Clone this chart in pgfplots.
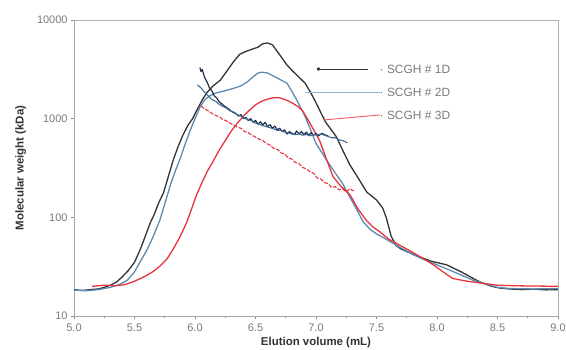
\documentclass[border=0pt]{standalone}
\usepackage{fontspec}
\setmainfont{Liberation Sans}
\usepackage{pgfplots}
\pgfplotsset{compat=1.18}
\definecolor{c1}{HTML}{333333}
\definecolor{c2}{HTML}{5B8BB3}
\definecolor{c3}{HTML}{E8333D}
\definecolor{s1}{HTML}{1C2D4A}
\definecolor{s2}{HTML}{3F6C96}
\definecolor{l2}{HTML}{8DB6D6}
\definecolor{txt}{HTML}{7A7A7A}
\begin{document}
\begin{tikzpicture}
\begin{axis}[name=ax,
  scale only axis, width=484bp, height=296bp,
  xmin=5, xmax=9, ymin=10, ymax=10000, ymode=log,
  xtick={5,5.5,...,9}, minor x tick num=1,
  ytick={10,100,1000,10000}, yticklabels={10,100,1000,10000},
  log basis y=10,
  xticklabel style={/pgf/number format/fixed, /pgf/number format/fixed zerofill, /pgf/number format/precision=1, yshift=-1bp},
  /pgf/number format/assume math mode=true,
  tick align=outside, xtick pos=bottom, ytick pos=left,
  major tick length=3bp, minor tick length=2bp,
  axis line style={draw=black!35, line width=0.9pt},
  tick style={black!45, line width=0.6pt},
  ticklabel style={font=\fontsize{11}{13}\selectfont, text=txt},
  xlabel={\bfseries Elution volume (mL)},
  ylabel={\bfseries Molecular weight (kDa)},
  label style={font=\fontsize{11.5}{13}\selectfont, text=black!80},
  xlabel style={at={(axis description cs:0.5,-0.09)}, anchor=center},
  ylabel style={at={(axis description cs:-0.11,0.5)}, anchor=center},
  clip=false,
  every axis plot/.append style={line join=round},
]
% SCGH 1D (black)
\addplot[c1, line width=1.3pt] coordinates {
(5.00,18.5)(5.05,18.2)(5.10,18.3)(5.15,18.6)(5.20,18.8)(5.25,19.5)(5.30,20.5)(5.35,22)(5.40,25)(5.45,29)(5.50,35)(5.55,48)(5.60,70)(5.63,88)(5.66,105)(5.70,140)(5.74,178)(5.78,260)(5.82,380)(5.86,520)(5.90,680)(5.94,850)(5.98,1000)(6.02,1250)(6.06,1550)(6.10,1850)(6.15,2150)(6.21,2460)(6.26,3000)(6.32,3800)(6.37,4500)(6.42,4800)(6.48,5100)(6.52,5300)(6.56,5750)(6.60,5850)(6.64,5600)(6.68,4800)(6.72,4100)(6.76,3500)(6.80,3100)(6.85,2700)(6.91,2290)(6.96,1800)(7.00,1450)(7.04,1150)(7.08,920)(7.13,760)(7.17,650)(7.22,480)(7.28,340)(7.34,260)(7.42,180)(7.50,150)(7.55,125)(7.58,100)(7.62,65)(7.66,52)(7.70,48)(7.75,45)(7.85,40)(7.95,36)(8.08,33)(8.20,28)(8.30,24)(8.36,22)(8.45,20)(8.52,19.2)(8.60,18.8)(8.70,18.5)(8.80,18.7)(8.90,18.4)(9.00,18.5)};
% SCGH 2D (blue)
\addplot[c2, line width=1.3pt] coordinates {
(5.00,18.3)(5.10,18.0)(5.20,18.5)(5.30,19.5)(5.38,21)(5.44,23)(5.50,28)(5.55,36)(5.60,46)(5.65,62)(5.71,94)(5.76,150)(5.80,220)(5.84,300)(5.88,400)(5.92,560)(5.96,760)(6.00,1000)(6.04,1300)(6.08,1550)(6.12,1700)(6.16,1800)(6.21,1870)(6.27,1950)(6.33,2050)(6.38,2150)(6.43,2350)(6.48,2650)(6.52,2900)(6.55,2960)(6.60,2900)(6.65,2700)(6.70,2500)(6.76,2290)(6.80,1900)(6.84,1550)(6.87,1320)(6.91,1050)(6.95,800)(7.00,560)(7.05,450)(7.10,360)(7.16,280)(7.22,220)(7.28,160)(7.34,118)(7.39,90)(7.45,75)(7.50,68)(7.55,63)(7.62,56)(7.69,50)(7.80,42)(7.90,37)(8.00,33)(8.11,29)(8.20,26)(8.30,23)(8.38,21.5)(8.50,19.5)(8.60,19)(8.80,18.8)(9.00,19)};
% SCGH 3D (red)
\addplot[c3, line width=1.3pt] coordinates {
(5.15,20)(5.25,20.5)(5.35,20.3)(5.42,20.8)(5.50,22.5)(5.58,25)(5.65,28)(5.71,32)(5.77,38)(5.83,50)(5.88,65)(5.93,88)(5.97,120)(6.01,165)(6.05,215)(6.10,290)(6.15,370)(6.20,480)(6.25,600)(6.30,750)(6.35,900)(6.40,1060)(6.45,1220)(6.50,1380)(6.55,1500)(6.60,1580)(6.65,1630)(6.70,1630)(6.75,1550)(6.80,1450)(6.85,1330)(6.89,1200)(6.95,900)(7.03,600)(7.10,350)(7.14,260)(7.20,210)(7.28,170)(7.35,120)(7.42,92)(7.47,80)(7.53,71)(7.60,60)(7.72,50)(7.80,44)(7.88,38.6)(7.97,33)(8.05,28)(8.13,24)(8.25,22.5)(8.36,21.6)(8.50,20.5)(8.70,20.2)(9.00,20)};
% molar mass traces
\addplot[s1, line width=1.2pt] coordinates {
(6.04,3300)(6.05,3000)(6.06,3150)(6.08,2600)(6.10,2350)(6.12,2050)(6.14,1900)(6.16,1700)(6.18,1620)(6.20,1480)(6.22,1420)(6.24,1350)(6.26,1300)(6.28,1250)(6.30,1190)(6.32,1150)(6.34,1120)(6.36,1060)(6.38,1100)(6.40,1000)(6.42,1030)(6.44,960)(6.46,1000)(6.48,920)(6.50,960)(6.52,880)(6.54,930)(6.56,860)(6.58,920)(6.60,830)(6.62,870)(6.64,800)(6.66,840)(6.68,770)(6.70,800)(6.72,740)(6.74,770)(6.76,700)(6.78,740)(6.80,710)(6.82,690)(6.84,750)(6.86,700)(6.88,740)(6.90,690)(6.92,730)(6.94,680)(6.96,720)(6.98,680)(7.00,710)(7.02,670)(7.05,710)(7.08,680)(7.10,670)};
\addplot[s2, line width=1.1pt] coordinates {
(6.02,2200)(6.05,2050)(6.08,1850)(6.11,1700)(6.14,1560)(6.17,1500)(6.20,1400)(6.23,1330)(6.26,1280)(6.29,1200)(6.32,1170)(6.35,1100)(6.38,1060)(6.41,1010)(6.44,980)(6.47,950)(6.50,900)(6.53,880)(6.56,850)(6.59,830)(6.62,810)(6.65,790)(6.68,760)(6.71,760)(6.74,730)(6.77,720)(6.80,700)(6.83,690)(6.86,700)(6.89,680)(6.92,690)(6.95,670)(6.98,690)(7.01,680)(7.04,700)(7.07,680)(7.10,660)(7.13,640)(7.16,640)(7.19,610)(7.22,600)(7.26,570)};
\addplot[c3, line width=1.1pt, dash pattern=on 4pt off 1.5pt] coordinates {
(6.05,1350)(6.08,1250)(6.11,1200)(6.14,1130)(6.17,1080)(6.20,1050)(6.23,980)(6.26,950)(6.29,900)(6.32,860)(6.35,820)(6.38,800)(6.41,740)(6.44,720)(6.47,680)(6.50,650)(6.53,620)(6.56,600)(6.59,560)(6.62,540)(6.65,500)(6.68,490)(6.71,450)(6.74,440)(6.77,400)(6.80,390)(6.83,360)(6.86,350)(6.89,320)(6.92,310)(6.95,290)(6.98,280)(7.01,250)(7.04,245)(7.07,225)(7.10,220)(7.13,200)(7.16,205)(7.19,190)(7.22,195)(7.25,180)(7.28,195)(7.31,185)};
% legend leader lines
\addplot[c1, line width=0.9pt, mark=*, mark size=1.3pt, mark repeat=2] coordinates {(7.02,3180)(7.43,3180)};
\addplot[l2, line width=0.9pt] coordinates {(6.91,1860)(7.53,1860)};
\addplot[c3!80, line width=0.9pt] coordinates {(7.06,970)(7.53,1090)};
\node[anchor=west, text=txt, font=\fontsize{12}{14}\selectfont, inner sep=0pt] at (axis cs:7.525,3180) {· SCGH \# 1D};
\node[anchor=west, text=txt, font=\fontsize{12}{14}\selectfont, inner sep=0pt] at (axis cs:7.525,1860) {· SCGH \# 2D};
\node[anchor=west, text=txt, font=\fontsize{12}{14}\selectfont, inner sep=0pt] at (axis cs:7.525,1090) {· SCGH \# 3D};
% frame top/right
\draw[black!30, line width=0.9pt] (rel axis cs:0,1) -- (rel axis cs:1,1) -- (rel axis cs:1,0);
\end{axis}
\pgfresetboundingbox
\path ([shift={(-74bp,-33bp)}]ax.south west) rectangle ([shift={(8bp,20bp)}]ax.north east);
\end{tikzpicture}
\end{document}
